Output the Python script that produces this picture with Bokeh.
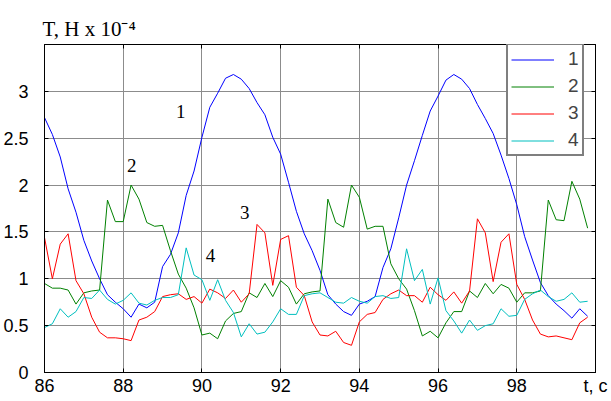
from bokeh.plotting import figure
from bokeh.models import Legend, LegendItem, Label, LinearAxis, FixedTicker, Range1d
from bokeh.embed import file_html
from bokeh.resources import INLINE

# sample times, s
t = [86.0, 86.2, 86.4, 86.6, 86.8, 87.0, 87.2, 87.4, 87.6, 87.8,
     88.0, 88.2, 88.4, 88.6, 88.8, 89.0, 89.2, 89.4, 89.6, 89.8,
     90.0, 90.2, 90.4, 90.6, 90.8, 91.0, 91.2, 91.4, 91.6, 91.8,
     92.0, 92.2, 92.4, 92.6, 92.8, 93.0, 93.2, 93.4, 93.6, 93.8,
     94.0, 94.2, 94.4, 94.6, 94.8, 95.0, 95.2, 95.4, 95.6, 95.8,
     96.0, 96.2, 96.4, 96.6, 96.8, 97.0, 97.2, 97.4, 97.6, 97.8,
     98.0, 98.2, 98.4, 98.6, 98.8, 99.0, 99.2, 99.4, 99.6, 99.8]

s1 = [2.72, 2.54, 2.30, 1.96, 1.71, 1.41, 1.19, 1.00, 0.83, 0.75,
      0.68, 0.59, 0.73, 0.69, 0.75, 1.13, 1.26, 1.49, 1.89, 2.15,
      2.51, 2.83, 2.98, 3.14, 3.18, 3.13, 3.03, 2.88, 2.75, 2.51,
      2.33, 2.03, 1.72, 1.48, 1.30, 1.09, 0.83, 0.73, 0.65, 0.61,
      0.73, 0.76, 0.81, 1.12, 1.32, 1.65, 2.00, 2.26, 2.53, 2.79,
      2.95, 3.12, 3.18, 3.13, 3.03, 2.86, 2.71, 2.55, 2.32, 2.07,
      1.79, 1.45, 1.20, 0.96, 0.82, 0.73, 0.66, 0.58, 0.68, 0.60]

s2 = [0.95, 0.90, 0.90, 0.88, 0.73, 0.85, 0.87, 0.88, 1.84, 1.61,
      1.61, 2.00, 1.85, 1.60, 1.56, 1.57, 1.30, 1.05, 0.90, 0.69,
      0.40, 0.42, 0.36, 0.55, 0.63, 0.65, 0.85, 0.80, 0.95, 0.81,
      0.98, 0.91, 0.73, 0.84, 0.86, 0.87, 1.85, 1.60, 1.55, 2.00,
      1.87, 1.53, 1.56, 1.56, 1.16, 1.00, 0.89, 0.66, 0.39, 0.44,
      0.37, 0.53, 0.65, 0.65, 0.87, 0.80, 0.95, 0.84, 0.94, 0.90,
      0.75, 0.85, 0.85, 0.87, 1.84, 1.63, 1.62, 2.04, 1.85, 1.54]

s3 = [1.44, 1.00, 1.37, 1.48, 0.98, 0.84, 0.59, 0.43, 0.37, 0.37,
      0.36, 0.34, 0.56, 0.59, 0.65, 0.81, 0.83, 0.84, 0.78, 0.81,
      0.74, 0.89, 0.85, 0.79, 0.88, 0.75, 0.84, 1.58, 1.49, 0.93,
      1.42, 1.46, 0.91, 0.82, 0.54, 0.40, 0.39, 0.44, 0.32, 0.29,
      0.54, 0.62, 0.64, 0.78, 0.84, 0.88, 0.82, 0.82, 0.75, 0.91,
      0.83, 0.77, 0.86, 0.74, 0.87, 1.64, 1.49, 0.97, 1.39, 1.48,
      0.94, 0.78, 0.56, 0.41, 0.38, 0.39, 0.37, 0.35, 0.53, 0.59]

s4 = [0.48, 0.52, 0.68, 0.59, 0.65, 0.80, 0.79, 0.88, 0.78, 0.73,
      0.77, 0.85, 0.74, 0.72, 0.77, 0.80, 0.80, 0.83, 1.33, 1.04,
      0.99, 0.77, 0.99, 0.77, 0.64, 0.38, 0.52, 0.41, 0.43, 0.54,
      0.68, 0.62, 0.62, 0.82, 0.84, 0.85, 0.80, 0.75, 0.74, 0.80,
      0.76, 0.74, 0.81, 0.82, 0.79, 0.80, 1.32, 0.98, 1.10, 0.73,
      1.01, 0.66, 0.55, 0.42, 0.56, 0.45, 0.50, 0.52, 0.68, 0.60,
      0.61, 0.78, 0.84, 0.88, 0.81, 0.76, 0.78, 0.85, 0.75, 0.76]

series_names = ["1", "2", "3", "4"]
series_colors = ["#0000ff", "#008000", "#ff0000", "#00bfbf"]

x_ticks = [86, 88, 90, 92, 94, 96, 98, 100]
x_tick_labels = ["86", "88", "90", "92", "94", "96", "98", "t, c"]
y_ticks = [0, 0.5, 1, 1.5, 2, 2.5, 3]
y_tick_labels = ["0", "0.5", "1", "1.5", "2", "2.5", "3"]
y_title = "T, H x 10\u207b\u2074"

# curve annotations (label, t, value)
ann_text = ["1", "2", "3", "4"]
ann_x = [89.46, 88.22, 91.09, 90.22]
ann_y = [2.79, 2.21, 1.71, 1.25]

p = figure(width=611, height=401, x_range=Range1d(86, 100), y_range=Range1d(0, 3.5),
           output_backend="svg", toolbar_location=None,
           min_border_left=42, min_border_right=16, min_border_top=44, min_border_bottom=29)
p.styles = {"position": "absolute", "left": "0px", "top": "0px"}
p.background_fill_color = "white"
p.border_fill_color = "white"
p.outline_line_color = "black"
p.outline_line_width = 1

p.title.text = y_title
p.title.align = "left"
p.title.offset = -2
p.title.standoff = 7
p.title.text_font = "Liberation Serif"
p.title.text_font_size = "21px"
p.title.text_font_style = "normal"
p.title.text_color = "black"

tick_font = "Liberation Sans"
for ax in p.xaxis:
    ax.ticker = FixedTicker(ticks=x_ticks)
    ax.major_label_overrides = dict(zip(x_ticks, x_tick_labels))
    ax.major_tick_in = 4
    ax.major_tick_out = 0
    ax.minor_tick_line_color = None
    ax.major_label_standoff = 3
    ax.major_label_text_font = tick_font
    ax.major_label_text_font_size = "18px"
    ax.major_label_text_color = "black"
    ax.axis_line_color = "black"
for ax in p.yaxis:
    ax.ticker = FixedTicker(ticks=y_ticks)
    ax.major_label_overrides = dict(zip(y_ticks, y_tick_labels))
    ax.major_tick_in = 4
    ax.major_tick_out = 0
    ax.minor_tick_line_color = None
    ax.major_label_standoff = 16
    ax.major_label_text_font = tick_font
    ax.major_label_text_font_size = "18px"
    ax.major_label_text_color = "black"
    ax.axis_line_color = "black"

right_ax = LinearAxis(ticker=FixedTicker(ticks=y_ticks), major_tick_in=4, major_tick_out=0,
                      minor_tick_line_color=None, major_label_text_font_size="1px",
                      major_label_text_color=None,
                      major_label_standoff=0, axis_line_color="black")
top_ax = LinearAxis(ticker=FixedTicker(ticks=x_ticks), major_tick_in=4, major_tick_out=0,
                    minor_tick_line_color=None, major_label_text_font_size="1px",
                    major_label_text_color=None,
                    major_label_standoff=0, axis_line_color="black")
p.add_layout(right_ax, "right")
p.add_layout(top_ax, "above")

p.xgrid.ticker = FixedTicker(ticks=x_ticks)
p.ygrid.ticker = FixedTicker(ticks=y_ticks)
for g in (p.xgrid, p.ygrid):
    g.grid_line_color = "#8c8c8c"
    g.grid_line_width = 1

renderers = []
for ys, c in zip([s1, s2, s3, s4], series_colors):
    r = p.line(t, ys, line_color=c, line_width=1)
    renderers.append(r)

legend = Legend(items=[LegendItem(label=n, renderers=[r]) for n, r in zip(series_names, renderers)],
                location=(462, 216), margin=0, padding=3, spacing=5,
                glyph_width=43, glyph_height=21, label_height=21, label_width=10,
                label_standoff=14,
                label_text_font=tick_font, label_text_font_size="19px",
                border_line_color="black", border_line_width=2,
                background_fill_color="white", background_fill_alpha=1)
p.add_layout(legend)

for txt, ax_, ay_ in zip(ann_text, ann_x, ann_y):
    p.add_layout(Label(x=ax_, y=ay_, text=txt, text_align="center", text_baseline="middle",
                       text_font="Liberation Serif", text_font_size="19px", text_color="black"))

open("out.html", "w").write(file_html(p, INLINE))
